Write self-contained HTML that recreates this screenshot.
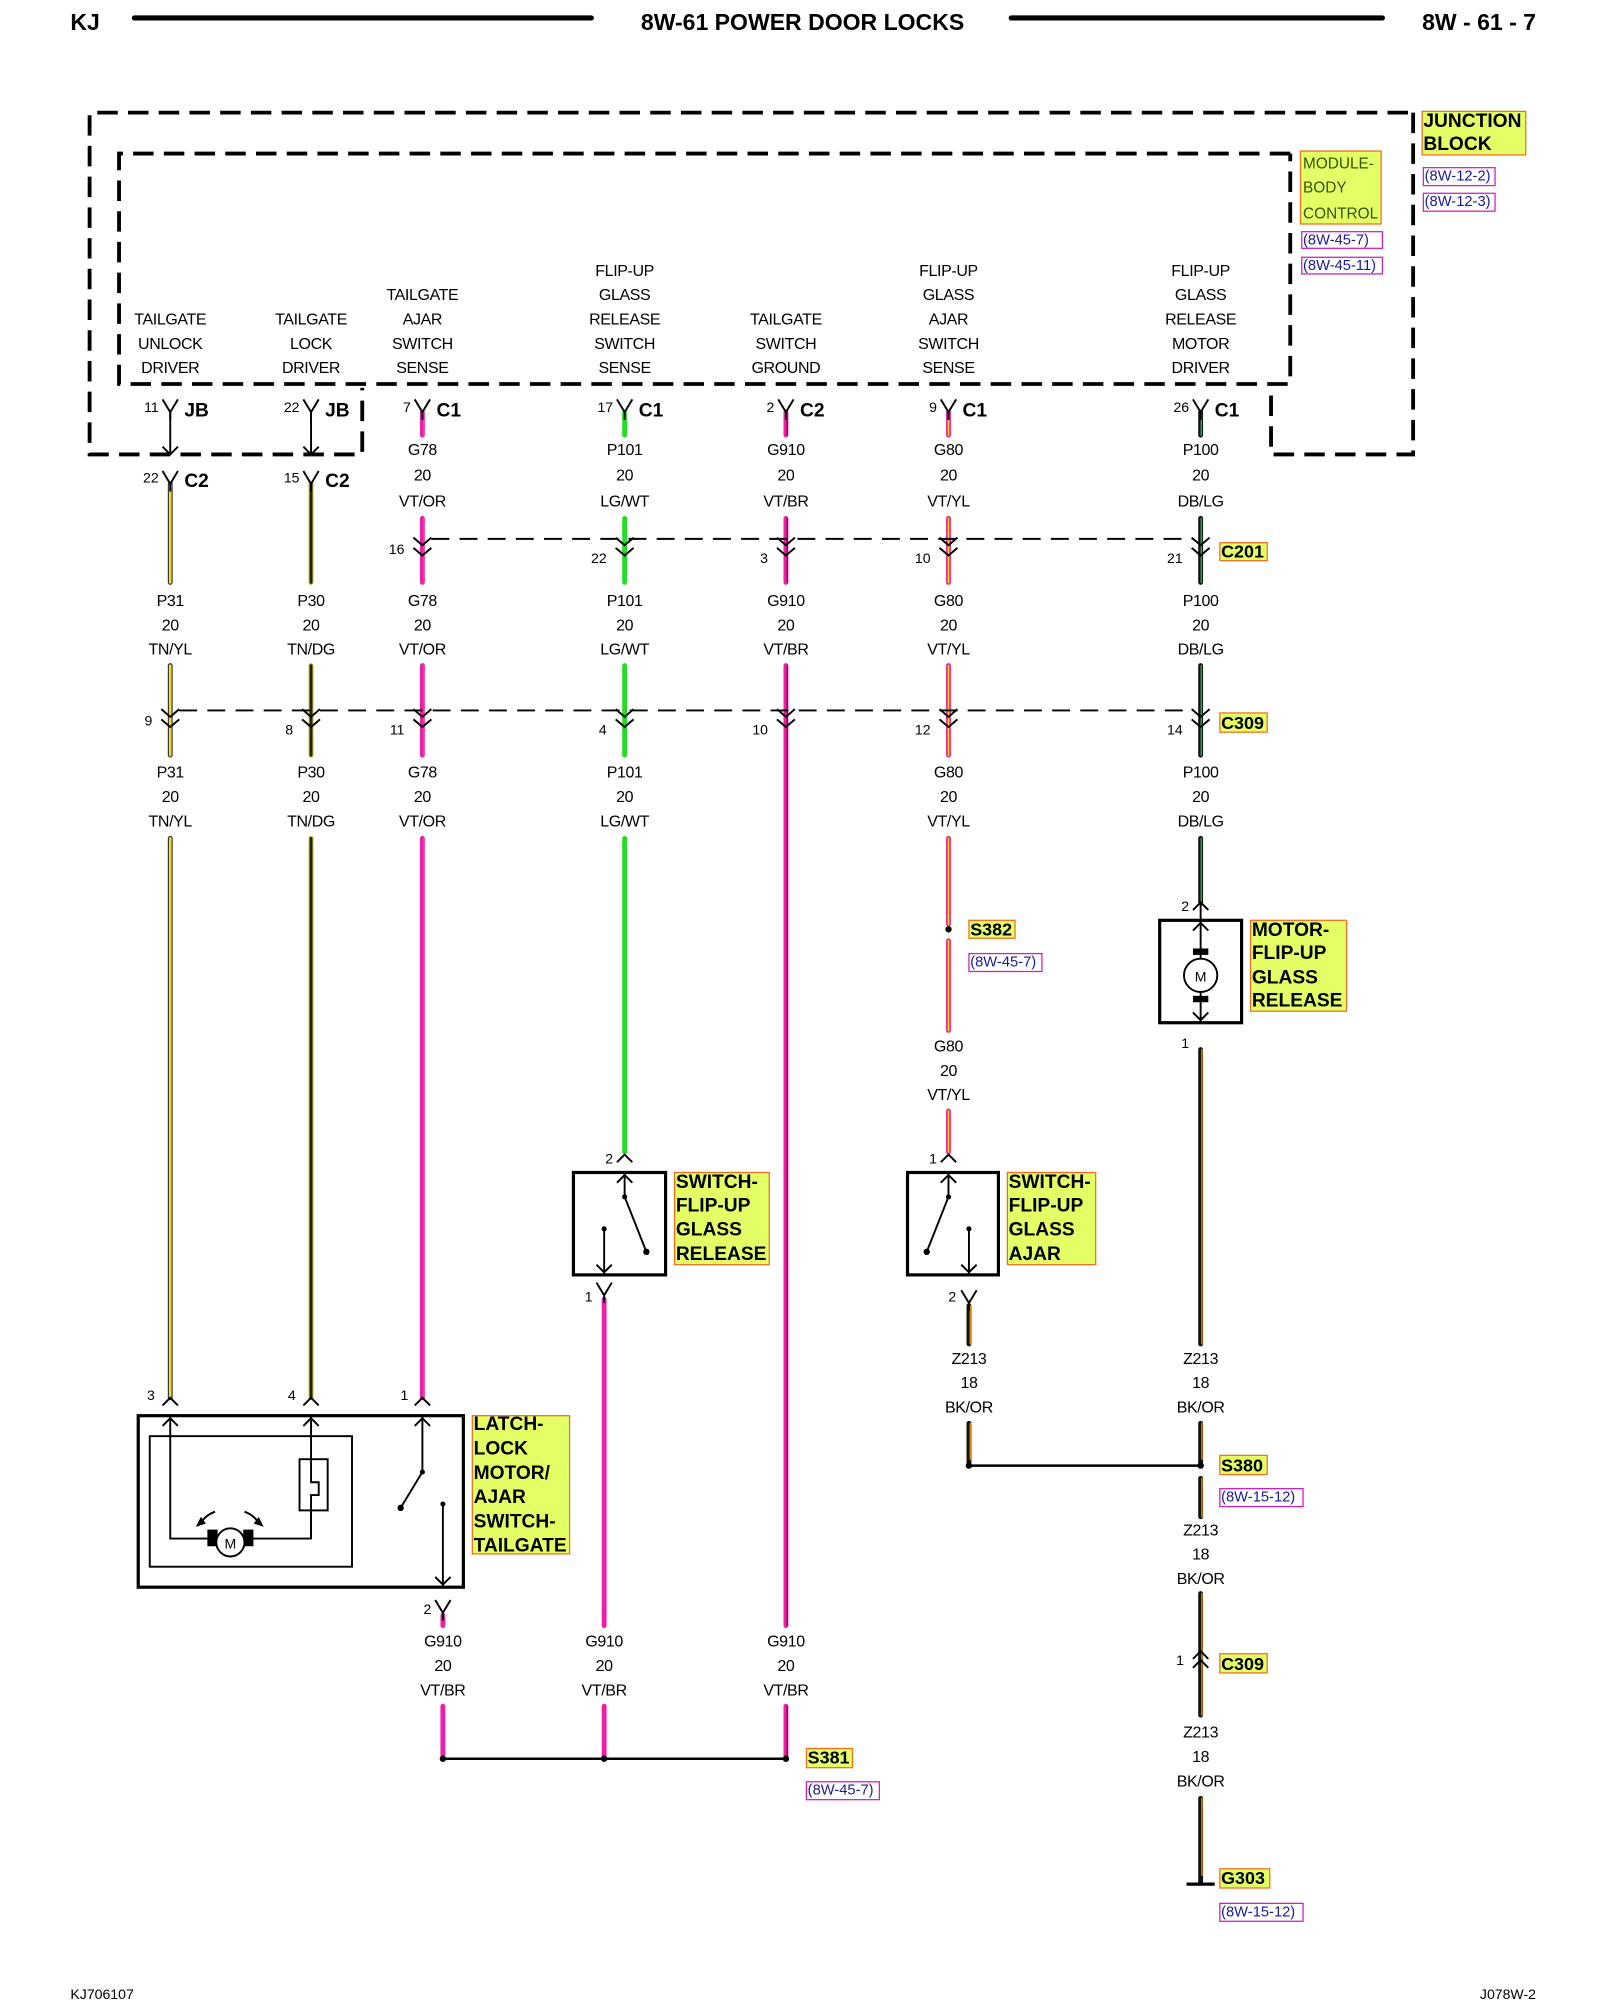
<!DOCTYPE html>
<html><head><meta charset="utf-8"><style>
html,body{margin:0;padding:0;background:#fff}
svg{display:block}
text{font-family:"Liberation Sans",sans-serif;dominant-baseline:central}
.t{font-size:12.5px;text-anchor:middle;letter-spacing:-0.3px}
.p{font-size:11px;text-anchor:end}
.c{font-size:15px;font-weight:bold}
.b{font-size:15px;font-weight:bold}
.lb{fill:#e4ff66;stroke:#f07020;stroke-width:1}
.rf{fill:#fff;stroke:#d020c0;stroke-width:1}
.rt{font-size:11.5px;fill:#1a1a99}
.k{stroke:#000;stroke-width:1.5;fill:none}
.dash{stroke:#000;stroke-width:3;fill:none;stroke-dasharray:16 8}
.dash2{stroke:#000;stroke-width:1.5;fill:none;stroke-dasharray:14 8}
</style></head><body>
<svg width="1600" height="2000" viewBox="0 0 1250 1562.5" preserveAspectRatio="none" xmlns="http://www.w3.org/2000/svg">
<defs>
<path id="Y" d="M-6,-10 L0,0 L6,-10 M0,0 L0,6" class="k"/>
<path id="DV" d="M-7,-6 L0,0 L7,-6 M-7,2 L0,8 L7,2" class="k"/>
<path id="UP" d="M-6,6 L0,0 L6,6" class="k"/>
<path id="DN" d="M-6,-6 L0,0 L6,-6" class="k"/>
</defs>

<!-- header -->
<text x="55" y="17" style="font-size:18px;font-weight:bold">KJ</text>
<line x1="105" y1="14" x2="462" y2="14" stroke="#000" stroke-width="4" stroke-linecap="round"/>
<text x="627" y="17" style="font-size:18px;font-weight:bold;text-anchor:middle">8W-61 POWER DOOR LOCKS</text>
<line x1="790" y1="14" x2="1080" y2="14" stroke="#000" stroke-width="4" stroke-linecap="round"/>
<text x="1200" y="17" style="font-size:18px;font-weight:bold;text-anchor:end">8W - 61 - 7</text>

<!-- dashed boxes -->
<path class="dash" d="M1100,88 L70,88 L70,355 L283,355 L283,303"/>
<path class="dash" d="M1104,88 L1104,355 L993,355 L993,303"/>
<path class="dash" d="M1008,120 L93,120 L93,300 L1008,300 L1008,120"/>

<rect class="lb" x="1016" y="118" width="63" height="57"/>
<text x="1018" y="128" style="font-size:12px;fill:#335500">MODULE-</text>
<text x="1018" y="147" style="font-size:12px;fill:#335500">BODY</text>
<text x="1018" y="167" style="font-size:12px;fill:#335500">CONTROL</text>
<rect class="rf" x="1017" y="181" width="63" height="13"/><text class="rt" x="1018" y="188">(8W-45-7)</text>
<rect class="rf" x="1017" y="201" width="63" height="13"/><text class="rt" x="1018" y="208">(8W-45-11)</text>
<rect class="lb" x="1111" y="87" width="81" height="34"/>
<text x="1112" y="95" class="b">JUNCTION</text>
<text x="1112" y="113" class="b">BLOCK</text>
<rect class="rf" x="1112" y="131" width="56" height="14"/><text class="rt" x="1113" y="138">(8W-12-2)</text>
<rect class="rf" x="1112" y="151" width="56" height="14"/><text class="rt" x="1113" y="158">(8W-12-3)</text>

<!-- column headers -->
<g class="t">
<text x="133" y="250">TAILGATE</text><text x="133" y="269">UNLOCK</text><text x="133" y="288">DRIVER</text>
<text x="243" y="250">TAILGATE</text><text x="243" y="269">LOCK</text><text x="243" y="288">DRIVER</text>
<text x="330" y="231">TAILGATE</text><text x="330" y="250">AJAR</text><text x="330" y="269">SWITCH</text><text x="330" y="288">SENSE</text>
<text x="488" y="212">FLIP-UP</text><text x="488" y="231">GLASS</text><text x="488" y="250">RELEASE</text><text x="488" y="269">SWITCH</text><text x="488" y="288">SENSE</text>
<text x="614" y="250">TAILGATE</text><text x="614" y="269">SWITCH</text><text x="614" y="288">GROUND</text>
<text x="741" y="212">FLIP-UP</text><text x="741" y="231">GLASS</text><text x="741" y="250">AJAR</text><text x="741" y="269">SWITCH</text><text x="741" y="288">SENSE</text>
<text x="938" y="212">FLIP-UP</text><text x="938" y="231">GLASS</text><text x="938" y="250">RELEASE</text><text x="938" y="269">MOTOR</text><text x="938" y="288">DRIVER</text>
</g>

<!-- wires -->
<g stroke-linecap="round" fill="none">
<!-- col 133 TN/YL -->
<path d="M133,378V455 M133,520V590 M133,655V1092" stroke="#333" stroke-width="3.8"/>
<path d="M133,378V455 M133,520V590 M133,655V1092" stroke="#f8d820" stroke-width="2"/>
<!-- col 243 TN/DG -->
<path d="M243,378V455 M243,520V590 M243,655V1092" stroke="#c8b020" stroke-width="3.8"/>
<path d="M243,378V455 M243,520V590 M243,655V1092" stroke="#1a2a10" stroke-width="2.2"/>
<!-- col 330 VT/OR -->
<path d="M330,322V340 M330,405V455 M330,520V590 M330,655V1092" stroke="#ee1ea8" stroke-width="3.8"/>
<path d="M331,322V340 M331,405V455 M331,520V590 M331,655V1092" stroke="#ff4060" stroke-width="1"/>
<!-- col 488 LG/WT -->
<path d="M488,322V340 M488,405V455 M488,520V590 M488,655V900" stroke="#22dd22" stroke-width="3.8"/>
<!-- col 614 VT/BR -->
<path d="M614,322V340 M614,405V455 M614,520V1270 M614,1333V1372" stroke="#ee1ea8" stroke-width="3.8"/>
<path d="M615,322V340 M615,405V455 M615,520V1270 M615,1333V1372" stroke="#900040" stroke-width="1"/>
<!-- col 741 VT/YL -->
<path d="M741,322V340 M741,405V455 M741,520V590 M741,655V722 M741,735V805 M741,868V900" stroke="#ee1ea8" stroke-width="3.8"/>
<path d="M741,322V340 M741,405V455 M741,520V590 M741,655V722 M741,735V805 M741,868V900" stroke="#ffe000" stroke-width="1.2"/>
<!-- col 938 DB/LG -->
<path d="M938,322V340 M938,405V455 M938,520V590 M938,655V705" stroke="#111" stroke-width="3.8"/>
<path d="M938.5,322V340 M938.5,405V455 M938.5,520V590 M938.5,655V705" stroke="#22aa44" stroke-width="1.2"/>
<!-- black/or Z213 -->
<path d="M938,820V1050 M938,1112V1145 M938,1155V1185 M938,1245V1340 M938,1405V1470 M757,1020V1050 M757,1112V1145" stroke="#111" stroke-width="3.8"/>
<path d="M939,820V1050 M939,1112V1140 M939,1155V1185 M939,1245V1340 M939,1405V1465 M758,1020V1050 M758,1112V1140" stroke="#ff9a00" stroke-width="1"/>
<!-- G910 lower -->
<path d="M346,1262V1270 M346,1333V1372 M472,1015V1270 M472,1333V1372" stroke="#ee1ea8" stroke-width="3.8"/>
</g>

<!-- top connectors -->
<g>
<line x1="133" y1="322" x2="133" y2="355" class="k"/><line x1="243" y1="322" x2="243" y2="355" class="k"/>
<use href="#DN" x="133" y="355"/><use href="#DN" x="243" y="355"/>
<use href="#Y" x="133" y="322"/><use href="#Y" x="243" y="322"/><use href="#Y" x="330" y="322"/><use href="#Y" x="488" y="322"/><use href="#Y" x="614" y="322"/><use href="#Y" x="741" y="322"/><use href="#Y" x="938" y="322"/>
<use href="#Y" x="133" y="378"/><use href="#Y" x="243" y="378"/>
</g>
<g class="p">
<text x="124" y="318">11</text><text x="234" y="318">22</text><text x="321" y="318">7</text><text x="479" y="318">17</text><text x="605" y="318">2</text><text x="732" y="318">9</text><text x="929" y="318">26</text>
<text x="124" y="373">22</text><text x="234" y="373">15</text>
</g>
<g class="c">
<text x="144" y="321">JB</text><text x="254" y="321">JB</text><text x="341" y="321">C1</text><text x="499" y="321">C1</text><text x="625" y="321">C2</text><text x="752" y="321">C1</text><text x="949" y="321">C1</text>
<text x="144" y="376">C2</text><text x="254" y="376">C2</text>
</g>

<!-- wire labels -->
<g class="t">
<text x="330" y="352">G78</text><text x="330" y="372">20</text><text x="330" y="392">VT/OR</text>
<text x="488" y="352">P101</text><text x="488" y="372">20</text><text x="488" y="392">LG/WT</text>
<text x="614" y="352">G910</text><text x="614" y="372">20</text><text x="614" y="392">VT/BR</text>
<text x="741" y="352">G80</text><text x="741" y="372">20</text><text x="741" y="392">VT/YL</text>
<text x="938" y="352">P100</text><text x="938" y="372">20</text><text x="938" y="392">DB/LG</text>

<text x="133" y="470">P31</text><text x="133" y="489">20</text><text x="133" y="508">TN/YL</text>
<text x="243" y="470">P30</text><text x="243" y="489">20</text><text x="243" y="508">TN/DG</text>
<text x="330" y="470">G78</text><text x="330" y="489">20</text><text x="330" y="508">VT/OR</text>
<text x="488" y="470">P101</text><text x="488" y="489">20</text><text x="488" y="508">LG/WT</text>
<text x="614" y="470">G910</text><text x="614" y="489">20</text><text x="614" y="508">VT/BR</text>
<text x="741" y="470">G80</text><text x="741" y="489">20</text><text x="741" y="508">VT/YL</text>
<text x="938" y="470">P100</text><text x="938" y="489">20</text><text x="938" y="508">DB/LG</text>

<text x="133" y="604">P31</text><text x="133" y="623">20</text><text x="133" y="642">TN/YL</text>
<text x="243" y="604">P30</text><text x="243" y="623">20</text><text x="243" y="642">TN/DG</text>
<text x="330" y="604">G78</text><text x="330" y="623">20</text><text x="330" y="642">VT/OR</text>
<text x="488" y="604">P101</text><text x="488" y="623">20</text><text x="488" y="642">LG/WT</text>
<text x="741" y="604">G80</text><text x="741" y="623">20</text><text x="741" y="642">VT/YL</text>
<text x="938" y="604">P100</text><text x="938" y="623">20</text><text x="938" y="642">DB/LG</text>

<text x="741" y="818">G80</text><text x="741" y="837">20</text><text x="741" y="856">VT/YL</text>
<text x="757" y="1062">Z213</text><text x="757" y="1081">18</text><text x="757" y="1100">BK/OR</text>
<text x="938" y="1062">Z213</text><text x="938" y="1081">18</text><text x="938" y="1100">BK/OR</text>
<text x="938" y="1196">Z213</text><text x="938" y="1215">18</text><text x="938" y="1234">BK/OR</text>
<text x="938" y="1354">Z213</text><text x="938" y="1373">18</text><text x="938" y="1392">BK/OR</text>
<text x="346" y="1283">G910</text><text x="346" y="1302">20</text><text x="346" y="1321">VT/BR</text>
<text x="472" y="1283">G910</text><text x="472" y="1302">20</text><text x="472" y="1321">VT/BR</text>
<text x="614" y="1283">G910</text><text x="614" y="1302">20</text><text x="614" y="1321">VT/BR</text>
</g>

<!-- C201 -->
<line x1="337" y1="421" x2="932" y2="421" class="dash2"/>
<use href="#DV" x="330" y="426"/><use href="#DV" x="488" y="426"/><use href="#DV" x="614" y="426"/><use href="#DV" x="741" y="426"/><use href="#DV" x="938" y="426"/>
<g class="p"><text x="316" y="429">16</text><text x="474" y="436">22</text><text x="600" y="436">3</text><text x="727" y="436">10</text><text x="924" y="436">21</text></g>
<rect class="lb" x="953" y="424" width="37" height="14"/><text x="954" y="431" class="b" style="font-size:14px">C201</text>

<!-- C309 -->
<line x1="140" y1="555" x2="932" y2="555" class="dash2"/>
<use href="#DV" x="133" y="560"/><use href="#DV" x="243" y="560"/><use href="#DV" x="330" y="560"/><use href="#DV" x="488" y="560"/><use href="#DV" x="614" y="560"/><use href="#DV" x="741" y="560"/><use href="#DV" x="938" y="560"/>
<g class="p"><text x="119" y="563">9</text><text x="229" y="570">8</text><text x="316" y="570">11</text><text x="474" y="570">4</text><text x="600" y="570">10</text><text x="727" y="570">12</text><text x="924" y="570">14</text></g>
<rect class="lb" x="953" y="557" width="37" height="15"/><text x="954" y="565" class="b" style="font-size:14px">C309</text>

<!-- S382 -->
<circle cx="741" cy="726" r="2.5"/>
<rect class="lb" x="757" y="719" width="36" height="14"/><text x="758" y="726" class="b" style="font-size:14px">S382</text>
<rect class="rf" x="757" y="745" width="57" height="14"/><text class="rt" x="758" y="752">(8W-45-7)</text>

<!-- Motor flip-up -->
<use href="#UP" x="938" y="705"/><line x1="938" y1="705" x2="938" y2="718" class="k"/>
<text class="p" x="929" y="708">2</text>
<rect x="906" y="719" width="64" height="80" fill="none" stroke="#000" stroke-width="2.5"/>
<line x1="938" y1="719" x2="938" y2="799" class="k"/>
<use href="#UP" x="938" y="721"/><use href="#DN" x="938" y="797"/>
<rect x="932" y="741" width="12" height="5"/><rect x="932" y="778" width="12" height="5"/>
<circle cx="938" cy="762" r="13" fill="#fff" stroke="#000" stroke-width="1.5"/>
<text x="938" y="763" style="font-size:11px;text-anchor:middle">M</text>
<text class="p" x="929" y="815">1</text>
<rect class="lb" x="977" y="719" width="75" height="71"/>
<g class="b"><text x="978" y="727">MOTOR-</text><text x="978" y="745">FLIP-UP</text><text x="978" y="764">GLASS</text><text x="978" y="782">RELEASE</text></g>

<!-- switch flip-up glass release -->
<use href="#UP" x="488" y="902"/><text class="p" x="479" y="905">2</text>
<rect x="448" y="916" width="72" height="80" fill="none" stroke="#000" stroke-width="2.5"/>
<path d="M488,916V935 L505,978 M472,960V996" class="k"/>
<use href="#UP" x="488" y="918"/><use href="#DN" x="472" y="994"/>
<circle cx="488" cy="935" r="2"/><circle cx="505" cy="978" r="2.5"/><circle cx="472" cy="960" r="2"/>
<use href="#Y" x="472" y="1012"/><text class="p" x="463" y="1013">1</text>
<rect class="lb" x="527" y="916" width="74" height="72"/>
<g class="b"><text x="528" y="924">SWITCH-</text><text x="528" y="942">FLIP-UP</text><text x="528" y="961">GLASS</text><text x="528" y="980">RELEASE</text></g>

<!-- switch flip-up glass ajar -->
<use href="#UP" x="741" y="902"/><text class="p" x="732" y="905">1</text>
<rect x="709" y="916" width="71" height="80" fill="none" stroke="#000" stroke-width="2.5"/>
<path d="M741,916V935 L724,978 M757,960V996" class="k"/>
<use href="#UP" x="741" y="918"/><use href="#DN" x="757" y="994"/>
<circle cx="741" cy="935" r="2"/><circle cx="724" cy="978" r="2.5"/><circle cx="757" cy="960" r="2"/>
<use href="#Y" x="757" y="1018"/><text class="p" x="747" y="1013">2</text>
<rect class="lb" x="787" y="916" width="69" height="72"/>
<g class="b"><text x="788" y="924">SWITCH-</text><text x="788" y="942">FLIP-UP</text><text x="788" y="961">GLASS</text><text x="788" y="980">AJAR</text></g>

<!-- S380 -->
<line x1="757" y1="1145" x2="938" y2="1145" stroke="#000" stroke-width="2"/>
<circle cx="757" cy="1145" r="2.5"/><circle cx="938" cy="1145" r="2.5"/>
<rect class="lb" x="953" y="1137" width="37" height="15"/><text x="954" y="1145" class="b" style="font-size:14px">S380</text>
<rect class="rf" x="953" y="1163" width="65" height="14"/><text class="rt" x="954" y="1170">(8W-15-12)</text>

<!-- C309 lower -->
<use href="#UP" x="938" y="1290"/><use href="#UP" x="938" y="1297"/>
<text class="p" x="925" y="1297">1</text>
<rect class="lb" x="953" y="1292" width="37" height="15"/><text x="954" y="1300" class="b" style="font-size:14px">C309</text>

<!-- G303 -->
<line x1="927" y1="1472" x2="949" y2="1472" stroke="#000" stroke-width="2.5"/>
<rect class="lb" x="953" y="1460" width="39" height="15"/><text x="954" y="1467" class="b" style="font-size:14px">G303</text>
<rect class="rf" x="953" y="1487" width="65" height="14"/><text class="rt" x="954" y="1494">(8W-15-12)</text>

<!-- latch box -->
<use href="#UP" x="133" y="1092"/><use href="#UP" x="243" y="1092"/><use href="#UP" x="330" y="1092"/>
<text class="p" x="121" y="1090">3</text><text class="p" x="231" y="1090">4</text><text class="p" x="319" y="1090">1</text>
<rect x="108" y="1106" width="254" height="134" fill="none" stroke="#000" stroke-width="2.5"/>
<rect x="117" y="1122" width="158" height="102" fill="none" stroke="#000" stroke-width="1.5"/>
<path d="M133,1106V1202H168 M192,1202H243V1106" class="k"/>
<use href="#UP" x="133" y="1108"/><use href="#UP" x="243" y="1108"/>
<rect x="234" y="1140" width="22" height="40" fill="#fff" stroke="#000" stroke-width="1.5"/>
<path d="M243,1140V1158H249V1168H243V1202" class="k"/>
<rect x="162" y="1195" width="8" height="13"/><rect x="190" y="1195" width="8" height="13"/>
<circle cx="180" cy="1205" r="11" fill="#fff" stroke="#000" stroke-width="1.5"/>
<text x="180" y="1206" style="font-size:11px;text-anchor:middle">M</text>
<path d="M168,1181 Q160,1184 157,1190 M191,1181 Q199,1184 202,1190" class="k"/>
<path d="M154,1192 l6,-2 l-3,-4z M205,1192 l-6,-2 l3,-4z" stroke="#000"/>
<path d="M330,1106V1150 L313,1178 M346,1175V1240" class="k"/>
<use href="#UP" x="330" y="1108"/><use href="#DN" x="346" y="1238"/>
<circle cx="330" cy="1150" r="2"/><circle cx="313" cy="1178" r="2.5"/><circle cx="346" cy="1175" r="2"/>
<use href="#Y" x="346" y="1260"/><text class="p" x="337" y="1257">2</text>
<rect class="lb" x="369" y="1106" width="76" height="108"/>
<g class="b"><text x="370" y="1113">LATCH-</text><text x="370" y="1132">LOCK</text><text x="370" y="1151">MOTOR/</text><text x="370" y="1170">AJAR</text><text x="370" y="1189">SWITCH-</text><text x="370" y="1208">TAILGATE</text></g>

<!-- S381 -->
<line x1="346" y1="1374" x2="614" y2="1374" stroke="#000" stroke-width="2"/>
<circle cx="346" cy="1374" r="2.5"/><circle cx="472" cy="1374" r="2.5"/><circle cx="614" cy="1374" r="2.5"/>
<rect class="lb" x="630" y="1366" width="36" height="15"/><text x="631" y="1373" class="b" style="font-size:14px">S381</text>
<rect class="rf" x="630" y="1392" width="57" height="14"/><text class="rt" x="631" y="1399">(8W-45-7)</text>

<!-- footer -->
<text x="55" y="1558" style="font-size:11px">KJ706107</text>
<text x="1200" y="1558" style="font-size:11px;text-anchor:end">J078W-2</text>
</svg>
</body></html>
